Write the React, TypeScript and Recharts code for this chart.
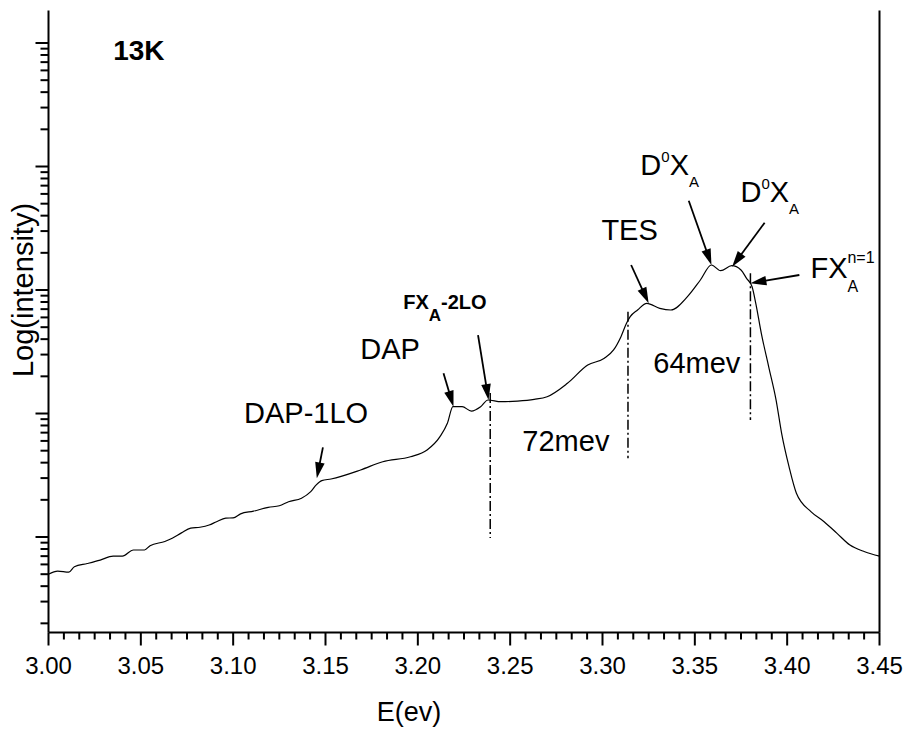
import React from 'react'
import { LineChart, Line, XAxis, YAxis, ReferenceLine, ReferenceDot } from 'recharts'

const FONT = '"Liberation Sans", Arial, Helvetica, sans-serif'

// PL spectrum at 13K (energy in eV, intensity in arb. units, log axis)
const ENERGY = [
  3.000, 3.005, 3.011, 3.014, 3.021, 3.028, 3.035, 3.040, 3.046, 3.052,
  3.055, 3.063, 3.067, 3.072, 3.077, 3.082, 3.087, 3.091, 3.096, 3.100,
  3.104, 3.111, 3.119, 3.125, 3.130, 3.137, 3.142, 3.145, 3.148, 3.153,
  3.169, 3.181, 3.196, 3.205, 3.212, 3.216, 3.219, 3.224, 3.229, 3.234,
  3.238, 3.245, 3.254, 3.263, 3.270, 3.281, 3.292, 3.301, 3.306, 3.310,
  3.313, 3.315, 3.319, 3.324, 3.331, 3.337, 3.346, 3.353, 3.359, 3.364,
  3.370, 3.375, 3.378, 3.381, 3.383, 3.386, 3.390, 3.394, 3.397, 3.401,
  3.405, 3.413, 3.420, 3.427, 3.434, 3.442, 3.450,
]
const INTENSITY = [
  0.50, 0.53, 0.52, 0.575, 0.61, 0.65, 0.70, 0.70, 0.785, 0.785,
  0.85, 0.92, 0.976, 1.08, 1.18, 1.20, 1.25, 1.33, 1.42, 1.43,
  1.54, 1.62, 1.74, 1.79, 1.93, 2.06, 2.33, 2.64, 2.86, 2.95,
  3.49, 4.07, 4.47, 5.06, 6.49, 8.33, 11.35, 11.35, 10.47, 11.35,
  12.86, 12.46, 12.62, 13.03, 13.68, 17.57, 24.7, 28.0, 32.7, 41.9,
  53.7, 60.8, 68.9, 78.0, 71.1, 68.9, 88.3, 120.5, 159.4, 143.3,
  157.4, 145.2, 124.4, 106.3, 78.0, 44.6, 23.9, 12.86, 6.91, 3.71,
  2.26, 1.60, 1.33, 1.07, 0.86, 0.76, 0.70,
]

const X_MAJOR = [3.0, 3.05, 3.1, 3.15, 3.2, 3.25, 3.3, 3.35, 3.4, 3.45]
const X_SUBDIV = 6
const Y_MAJOR = [1, 10, 100, 1000, 10000]
const Y_MINOR_MULT = [2, 3, 4, 5, 6, 7, 8, 9]
const Y_DOMAIN: [number, number] = [0.1686, 18330]

// arrows: [from E, from I, to E, to I]
const ARROWS = [
  [3.1486, 5.32, 3.1453, 2.99],
  [3.2139, 21.16, 3.2193, 11.35],
  [3.2326, 43.2, 3.2383, 12.86],
  [3.3155, 159.4, 3.325, 78.0],
  [3.3467, 528.6, 3.359, 159.4],
  [3.3878, 350.7, 3.3702, 154.4],
  [3.4066, 132.3, 3.3801, 113.3],
]
// dash-dot markers: [E, top I, bottom I]
const MARKERS = [
  [3.2392, 14.66, 0.98],
  [3.3138, 66.7, 4.34],
  [3.3801, 136.5, 8.86],
]

const data = ENERGY.map((e, k) => ({ e, i: INTENSITY[k] }))

const xTicks = X_MAJOR.flatMap((v, k) =>
  k === X_MAJOR.length - 1
    ? [v]
    : Array.from({ length: X_SUBDIV }, (_, j) => +(v + (j * 0.05) / X_SUBDIV).toFixed(5))
)
const isMajorX = (v: number) => X_MAJOR.some((m) => Math.abs(m - v) < 1e-6)

const yTicks = [0.1, 1, 10, 100, 1000, 10000]
  .flatMap((d) => Y_MINOR_MULT.map((m) => +(m * d).toPrecision(3)))
  .concat(Y_MAJOR)
  .filter((v) => v >= Y_DOMAIN[0] && v <= Y_DOMAIN[1])
const isMajorY = (v: number) => Y_MAJOR.some((m) => Math.abs(m - v) / m < 1e-6)

const BottomTick = (p: any) => {
  const v = p.payload.value
  const major = isMajorX(v)
  return (
    <g>
      <line x1={p.x} x2={p.x} y1={p.y} y2={p.y + (major ? 13 : 7)} stroke="#000" strokeWidth={2} />
      {major && (
        <text x={p.x} y={p.y + 41} textAnchor="middle" fontSize={24} fontFamily={FONT} fill="#000">
          {v.toFixed(2)}
        </text>
      )}
    </g>
  )
}

const TopTick = (p: any) => {
  const major = isMajorX(p.payload.value)
  return <line x1={p.x} x2={p.x} y1={p.y} y2={p.y + (major ? 13 : 7)} stroke="#000" strokeWidth={2} />
}

const LeftTick = (p: any) => {
  const major = isMajorY(p.payload.value)
  return <line x1={p.x} x2={p.x - (major ? 13 : 8)} y1={p.y} y2={p.y} stroke="#000" strokeWidth={2} />
}

const Arrow = (p: any) => {
  const { x1, y1, x2, y2 } = p
  const dx = x2 - x1
  const dy = y2 - y1
  const len = Math.hypot(dx, dy) || 1
  const ux = dx / len
  const uy = dy / len
  const hl = 16
  const hw = 4.8
  const bx = x2 - ux * hl
  const by = y2 - uy * hl
  return (
    <g>
      <line x1={x1} y1={y1} x2={bx + ux * 2} y2={by + uy * 2} stroke="#000" strokeWidth={1.8} />
      <path d={`M${x2},${y2} L${bx - uy * hw},${by + ux * hw} L${bx + uy * hw},${by - ux * hw} Z`} fill="#000" />
    </g>
  )
}

const txt = (content: React.ReactNode, size = 29, weight: string = 'normal') => (p: any) => (
  <text x={p.cx} y={p.cy} fontSize={size} fontWeight={weight} fontFamily={FONT} fill="#000">
    {content}
  </text>
)

const D0XA = (
  <>
    D<tspan dy={-13} fontSize={15}>0</tspan>
    <tspan dy={13}>X</tspan>
    <tspan dy={12} fontSize={15}>A</tspan>
  </>
)

export default function App() {
  return (
    <div style={{ position: 'absolute', left: 0, top: 0, width: 906, height: 731, background: '#fff' }}>
      <LineChart
        width={906}
        height={731}
        data={data}
        margin={{ top: 10.5, right: 26.5, bottom: 0, left: 0 }}
      >
        <XAxis
          dataKey="e"
          type="number"
          domain={[3.0, 3.45]}
          allowDataOverflow
          ticks={xTicks}
          interval={0}
          height={98.5}
          tickSize={0}
          tickMargin={0}
          tickLine={false}
          tick={<BottomTick />}
          axisLine={{ stroke: '#000', strokeWidth: 2 }}
        />
        <XAxis
          xAxisId="top"
          orientation="top"
          dataKey="e"
          type="number"
          domain={[3.0, 3.45]}
          allowDataOverflow
          ticks={xTicks}
          interval={0}
          height={0}
          tickSize={0}
          tickMargin={0}
          tickLine={false}
          tick={<TopTick />}
          axisLine={{ stroke: '#000', strokeWidth: 2 }}
        />
        <YAxis
          type="number"
          scale="log"
          domain={Y_DOMAIN}
          allowDataOverflow
          ticks={yTicks}
          interval={0}
          width={48.5}
          tickSize={0}
          tickMargin={0}
          tickLine={false}
          tick={<LeftTick />}
          axisLine={{ stroke: '#000', strokeWidth: 2 }}
        />
        <ReferenceLine x={3.45} stroke="#000" strokeWidth={2} />

        {MARKERS.map(([e, top, bottom], k) => (
          <ReferenceLine
            key={'m' + k}
            segment={[{ x: e, y: top }, { x: e, y: bottom }]}
            stroke="#000"
            strokeWidth={1.5}
            strokeDasharray="10 3 2 3"
          />
        ))}

        <Line
          type="monotone"
          dataKey="i"
          stroke="#000"
          strokeWidth={1.2}
          dot={false}
          isAnimationActive={false}
        />

        {ARROWS.map(([e1, i1, e2, i2], k) => (
          <ReferenceLine key={'a' + k} segment={[{ x: e1, y: i1 }, { x: e2, y: i2 }]} shape={<Arrow />} />
        ))}

        <ReferenceDot x={3.035} y={7283} r={0} shape={txt('13K', 28, 'bold')} />
        <ReferenceDot x={3.1059} y={8.38} r={0} shape={txt('DAP-1LO')} />
        <ReferenceDot x={3.1688} y={27.63} r={0} shape={txt('DAP')} />
        <ReferenceDot
          x={3.1921}
          y={70.2}
          r={0}
          shape={txt(
            <>
              FX<tspan dy={12} fontSize={17}>A</tspan>
              <tspan dy={-12}>-2LO</tspan>
            </>,
            20,
            'bold'
          )}
        />
        <ReferenceDot x={3.2994} y={254.1} r={0} shape={txt('TES')} />
        <ReferenceDot x={3.2566} y={4.97} r={0} shape={txt('72mev')} />
        <ReferenceDot x={3.3275} y={21.28} r={0} shape={txt('64mev')} />
        <ReferenceDot x={3.3205} y={853.5} r={0} shape={txt(D0XA)} />
        <ReferenceDot x={3.3747} y={516} r={0} shape={txt(D0XA)} />
        <ReferenceDot
          x={3.4126}
          y={125.1}
          r={0}
          shape={txt(
            <>
              FX<tspan dy={14} fontSize={16}>A</tspan>
              <tspan dx={-10.7} dy={-29} fontSize={16}>n=1</tspan>
            </>
          )}
        />
      </LineChart>
      <svg
        width={906}
        height={731}
        style={{ position: 'absolute', left: 0, top: 0, pointerEvents: 'none' }}
      >
        <text x={409} y={721} textAnchor="middle" fontSize={27} fontFamily={FONT} fill="#000">
          E(ev)
        </text>
        <text
          x={33}
          y={290}
          textAnchor="middle"
          fontSize={29}
          fontFamily={FONT}
          fill="#000"
          transform="rotate(-90, 33, 290)"
        >
          Log(intensity)
        </text>
      </svg>
    </div>
  )
}
